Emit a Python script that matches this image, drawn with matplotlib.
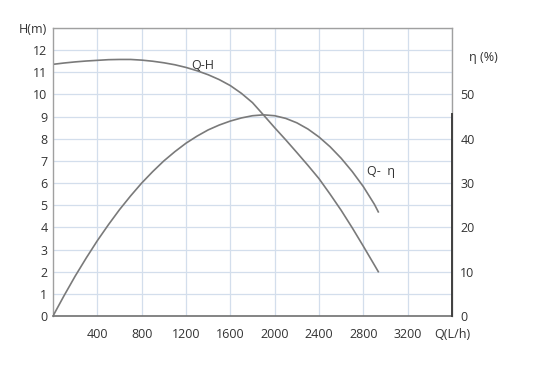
import matplotlib
matplotlib.use("Agg")
import matplotlib.pyplot as plt

# Data
q_h = [0, 100, 200, 300, 400, 500, 600, 700, 800, 900, 1000, 1100, 1200, 1300, 1400,
       1500, 1600, 1700, 1800, 1900, 2000, 2100, 2200, 2300, 2400, 2500, 2600, 2700,
       2800, 2900, 2935]
head = [11.36, 11.42, 11.47, 11.51, 11.54, 11.57, 11.58, 11.58, 11.55, 11.5, 11.43,
        11.34, 11.22, 11.07, 10.89, 10.67, 10.4, 10.05, 9.63, 9.07, 8.5, 7.95, 7.38,
        6.8, 6.2, 5.5, 4.77, 3.98, 3.15, 2.3, 2.0]

q_eta = [0, 100, 200, 300, 400, 500, 600, 700, 800, 900, 1000, 1100, 1200, 1300, 1400,
         1500, 1600, 1700, 1800, 1900, 2000, 2100, 2200, 2300, 2400, 2500, 2600, 2700,
         2800, 2900, 2935]
eta = [0, 4.6, 9.0, 13.1, 17.0, 20.6, 24.0, 27.1, 30.0, 32.6, 35.0, 37.1, 39.0, 40.6,
       42.0, 43.1, 44.0, 44.7, 45.2, 45.4, 45.2, 44.6, 43.6, 42.2, 40.4, 38.2, 35.6,
       32.6, 29.2, 25.2, 23.5]

x_ticks = [400, 800, 1200, 1600, 2000, 2400, 2800, 3200, 3600]
x_labels = ["400", "800", "1200", "1600", "2000", "2400", "2800", "3200", "Q(L/h)"]
h_ticks = list(range(0, 14))
h_labels = [str(v) for v in range(0, 13)] + ["H(m)"]
eta_ticks = [0, 10, 20, 30, 40, 50]

plt.rcParams['font.family'] = ['Open Sans', 'DejaVu Sans']

fig = plt.figure(figsize=(5.35, 3.66), dpi=100)
ax = fig.add_axes([53/535, 1-316/366, (452-53)/535, (316-28)/366])

grid_c = "#d3deec"
curve_c = "#7a7a7a"
txt_c = "#333333"

ax.set_xlim(0, 3600)
ax.set_ylim(0, 13)
ax.set_xticks(x_ticks)
ax.set_xticklabels(x_labels)
ax.set_yticks(h_ticks)
ax.set_yticklabels(h_labels)
ax.tick_params(axis="y", length=0, labelsize=9, colors=txt_c, pad=4)
ax.tick_params(axis="x", length=0, labelsize=9, colors=txt_c, pad=9)
ax.grid(True, color=grid_c, linewidth=0.9)
ax.set_axisbelow(True)
for s in ["left", "top", "right"]:
    ax.spines[s].set_color("#a0a0a0")
    ax.spines[s].set_linewidth(1.0)
ax.spines["bottom"].set_color("#707070")
ax.spines["bottom"].set_linewidth(1.2)

ax.plot(q_h, head, color=curve_c, linewidth=1.2)

ax2 = ax.twinx()
ax2.set_ylim(0, 65)
ax2.set_yticks(eta_ticks)
ax2.tick_params(length=0, labelsize=9, colors=txt_c, pad=6)
for s in ["left", "top", "bottom"]:
    ax2.spines[s].set_visible(False)
ax2.spines["right"].set_color("#404040")
ax2.spines["right"].set_linewidth(1.4)
ax2.spines["right"].set_bounds(0, 45.5)
ax2.plot(q_eta, eta, color=curve_c, linewidth=1.2)

ax.text(1250, 11.3, "Q-H", fontsize=9, color=txt_c, ha="left", va="center")
ax.text(2830, 6.5, "Q-  η", fontsize=9, color=txt_c, ha="left", va="center")
fig.text(469/535, 1-58/366, "η (%)", fontsize=9, color=txt_c, ha="left", va="center")

fig.savefig("out.png", dpi=100)
